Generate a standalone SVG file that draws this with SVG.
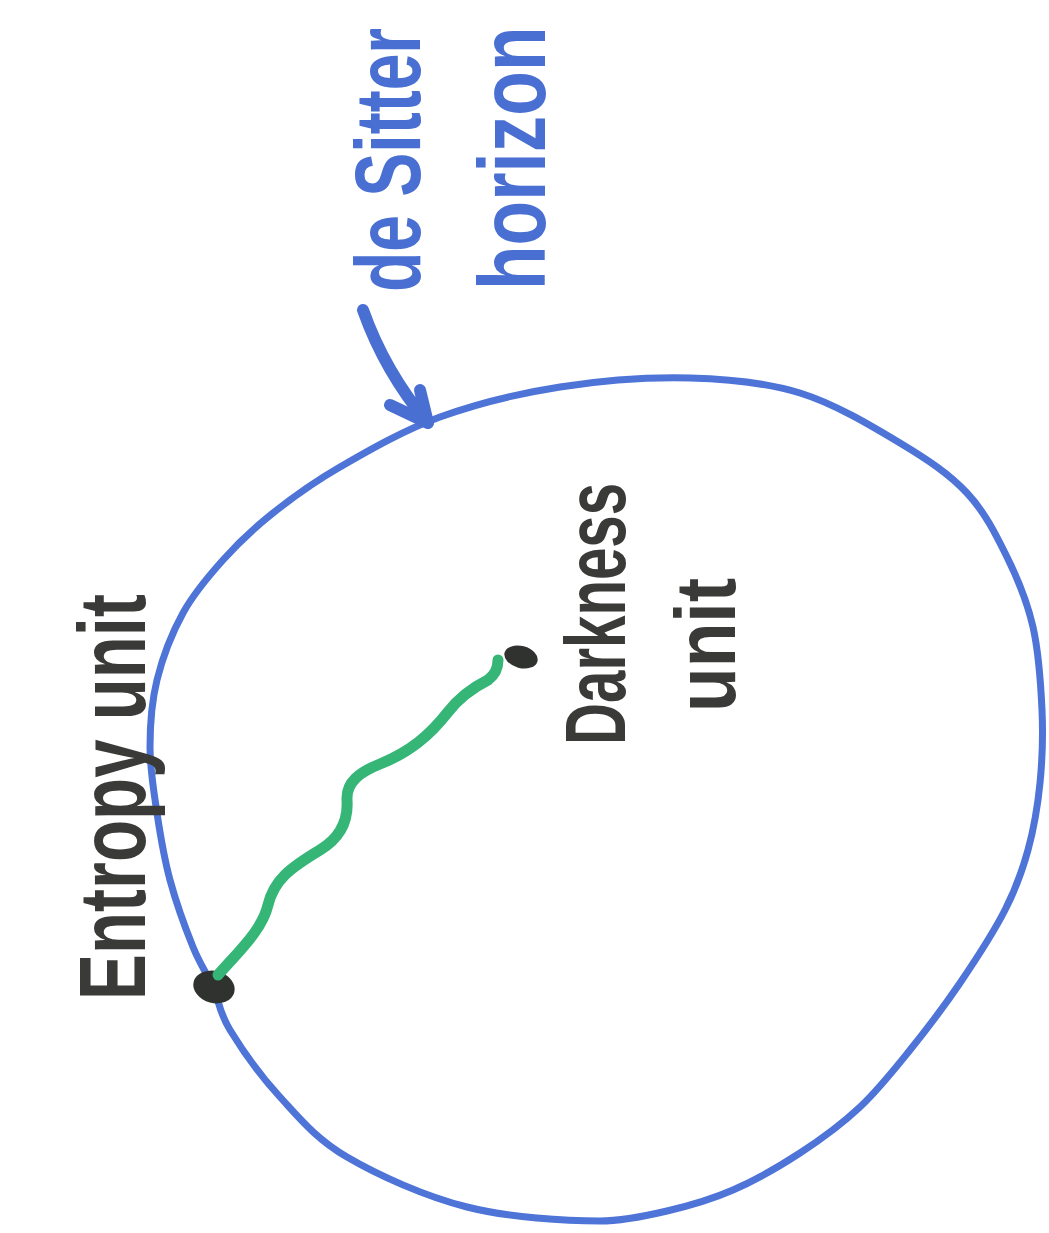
<svg xmlns="http://www.w3.org/2000/svg" width="1049" height="1233" viewBox="0 0 1049 1233">
<defs>
<style>
.blue{fill:none;stroke:#4d74d6;stroke-width:7;stroke-linecap:round;stroke-linejoin:round}
.arrow{fill:none;stroke:#4a6fd2;stroke-width:12;stroke-linecap:round;stroke-linejoin:round}
.green{fill:none;stroke:#35b677;stroke-width:11;stroke-linecap:round;stroke-linejoin:round}
.dot{fill:#2f322f}
.tb{font-family:"Liberation Sans",Arial,sans-serif;font-weight:700;fill:#4a6fd2}
.tk{font-family:"Liberation Sans",Arial,sans-serif;font-weight:700;fill:#3a3b39}
</style>
</defs>
<rect width="1049" height="1233" fill="#ffffff"/>
<g id="horizon">
<path class="blue" d="M150,747 C150,724.8 151.5,702.3 157,680 C162.5,657.7 172,633 183,613 C194,593 208,576.7 223,560 C238,543.3 253.5,528.5 273,513 C292.5,497.5 312.2,483 340,467 C367.8,451 403.3,430.3 440,417 C476.7,403.7 518.3,393.5 560,387 C601.7,380.5 650,377 690,378 C730,379 765,382.2 800,393 C835,403.8 872.2,426.3 900,443 C927.8,459.7 949.2,474 967,493 C984.8,512 996,534.7 1007,557 C1018,579.3 1027.2,601.5 1033,627 C1038.8,652.5 1040.8,684 1042,710 C1043.2,736 1042.3,759.7 1040,783 C1037.7,806.3 1033.8,828.8 1028,850 C1022.2,871.2 1016.3,887.8 1005,910 C993.7,932.2 975.8,959.7 960,983 C944.2,1006.3 926.7,1029.3 910,1050 C893.3,1070.7 878.3,1089.8 860,1107 C841.7,1124.2 821.2,1139.2 800,1153 C778.8,1166.8 755.2,1180.3 733,1190 C710.8,1199.7 689.2,1205.8 667,1211 C644.8,1216.2 622,1221 600,1221 C566.7,1221 509.2,1217.7 467,1207 C424.8,1196.3 378.2,1175.3 347,1157 C315.8,1138.7 299.5,1118.2 280,1097 C260.5,1075.8 241.2,1048.3 230,1030 C218.8,1011.7 219.2,1000.8 213,987 C206.8,973.2 200.2,964.8 193,947 C185.8,929.2 176,902.3 170,880 C164,857.7 160.3,835.2 157,813 C153.7,790.8 150,769.2 150,747 Z"/>
</g>
<g id="horizon-label">
<text class="tb" font-size="66" transform="translate(420,292) rotate(-90) scale(1,1.4)">de Sitter</text>
<text class="tb" font-size="73" transform="translate(545,290) rotate(-90) scale(1,1.3)">horizon</text>
</g>
<g id="entropy-unit">
<ellipse class="dot" cx="214" cy="987" rx="21" ry="16" transform="rotate(15 214 987)"/>
<text class="tk" font-size="95" textLength="406" lengthAdjust="spacingAndGlyphs" transform="translate(145,1000) rotate(-90)">Entropy unit</text>
</g>
<g id="darkness-unit">
<ellipse class="dot" cx="521" cy="657" rx="17" ry="11" transform="rotate(15 521 657)"/>
<text class="tk" font-size="85" textLength="262" lengthAdjust="spacingAndGlyphs" transform="translate(625,745) rotate(-90)">Darkness</text>
<text class="tk" font-size="85" textLength="134" lengthAdjust="spacingAndGlyphs" transform="translate(735,712) rotate(-90)">unit</text>
</g>
<g id="connectors">
<path class="arrow" d="M363,310 Q385,372 428,423 M390,405 L428,423 L420,390"/>
<path class="green" d="M218,975 C240,950 262,930 268,905 C274,880 290,868 320,850 C345,835 348,815 347,800 C346,782 360,772 380,764 C410,752 430,735 448,712 C462,694 478,685 488,680 C496,674 498,666 498,660"/>
</g>
</svg>
